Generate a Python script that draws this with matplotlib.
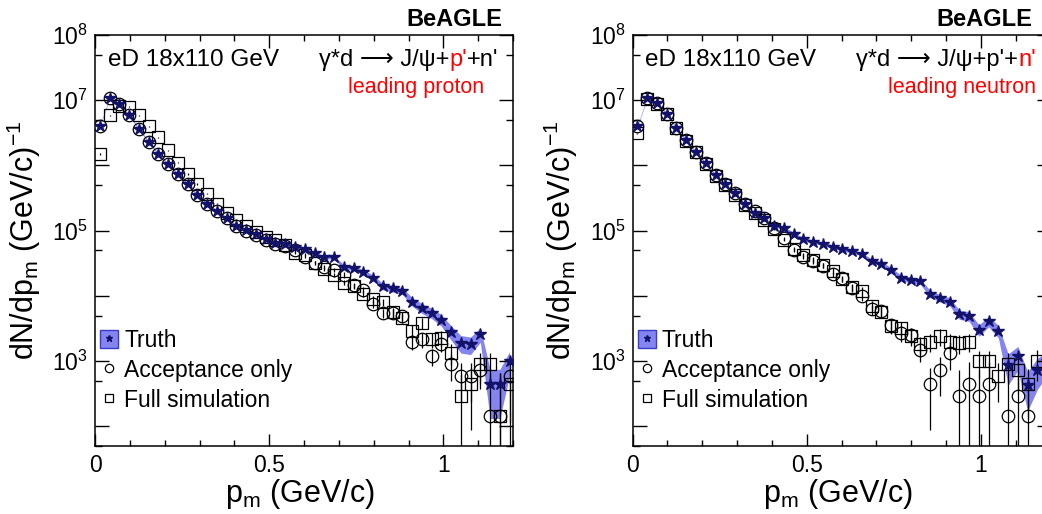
import numpy as np
import matplotlib
matplotlib.use("Agg")
import matplotlib.pyplot as plt
from matplotlib.patches import Patch
from matplotlib.lines import Line2D
from matplotlib.legend_handler import HandlerTuple
from matplotlib.ticker import FixedLocator, FixedFormatter, MultipleLocator

plt.rcParams['font.family'] = ['Liberation Sans', 'DejaVu Sans']
plt.rcParams['mathtext.fontset'] = 'custom'
plt.rcParams['mathtext.rm'] = 'Liberation Sans'
plt.rcParams['mathtext.it'] = 'Liberation Sans:italic'
plt.rcParams['mathtext.bf'] = 'Liberation Sans:bold'

# -----------------------------
# Data
# -----------------------------
# histogram 0..1.4 GeV/c in 50 bins, only the first 43 are visible
edges = np.linspace(0, 1.4, 51)
pm = 0.5 * (edges[:-1] + edges[1:])[:43]

nan = np.nan

# leading proton
p_truth = [4.0e6, 1.1e7, 8.7e6, 5.9e6, 3.6e6, 2.3e6, 1.5e6, 1.05e6, 7.4e5, 5.2e5,
           3.5e5, 2.6e5, 2.0e5, 1.55e5, 1.2e5, 1.03e5, 8.9e4, 7.5e4, 6.4e4, 6.2e4,
           5.7e4, 5.3e4, 4.5e4, 3.9e4, 3.9e4, 2.8e4, 2.7e4, 2.3e4, 1.9e4, 1.4e4,
           1.3e4, 1.2e4, 8.2e3, 6.5e3, 5.5e3, 4.3e3, 2.8e3, 1.9e3, 1.8e3, 2.6e3,
           4.4e2, 4.4e2, 1.0e3]
p_truth_err = [0.03] * 15 + [0.05] * 10 + \
              [0.08, 0.08, 0.09, 0.1, 0.11, 0.12, 0.12] + \
              [0.15, 0.17, 0.18, 0.2, 0.25, 0.3, 0.3, 0.25, 0.7, 0.7, 0.4]
p_acc = [4.0e6, 1.1e7, 8.7e6, 5.9e6, 3.6e6, 2.3e6, 1.5e6, 1.05e6, 7.4e5, 5.2e5,
         3.5e5, 2.6e5, 2.0e5, 1.55e5, 1.2e5, 1.0e5, 8.6e4, 7.2e4, 6.2e4, 5.9e4,
         5.0e4, 4.0e4, 3.2e4, 2.8e4, 2.5e4, 2.1e4, 1.45e4, 1.25e4, 7.6e3, 5.5e3,
         5.5e3, 4.9e3, 2.0e3, 2.15e3, 1.2e3, 1.85e3, 8.9e2, 5.9e2, 5.9e2, 7.4e2,
         1.45e2, 1.45e2, 5.9e2]
p_acc_err = [0.02] * 18 + [0.04, 0.05, 0.05, 0.06, 0.07, 0.07, 0.08, 0.09] + \
            [0.1, 0.11, 0.14, 0.16, 0.16, 0.17] + \
            [0.25, 0.25, 0.3, 0.25, 0.45, 0.6, 0.6, 0.5, 3.5, 3.5, 0.8]
p_full = [1.5e6, 5.9e6, 8.1e6, 7.9e6, 5.9e6, 4.0e6, 2.7e6, 1.7e6, 1.1e6, 7.4e5,
          5.2e5, 3.7e5, 2.6e5, 1.9e5, 1.46e5, 1.16e5, 9.7e4, 8.1e4, 7.1e4, 6.1e4,
          4.6e4, 4.3e4, 3.25e4, 2.6e4, 2.1e4, 1.6e4, 1.4e4, 1.08e4, 9.0e3, 8.0e3,
          5.6e3, 4.6e3, 2.9e3, 3.85e3, 2.15e3, 2.3e3, 1.35e3, 2.9e2, 4.4e2, 8.9e2,
          8.9e2, 1.45e2, 4.4e2]
p_full_err = [0.02] * 18 + [0.04, 0.04, 0.05, 0.05, 0.06, 0.07, 0.08, 0.09] + \
             [0.1, 0.11, 0.12, 0.13, 0.15, 0.17] + \
             [0.22, 0.2, 0.25, 0.25, 0.35, 1.2, 0.8, 0.5, 0.5, 3.5, 1.0]

# leading neutron
n_truth = [4.0e6, 1.1e7, 9.1e6, 6.25e6, 3.7e6, 2.45e6, 1.6e6, 1.08e6, 7.1e5, 5.2e5,
           3.75e5, 2.6e5, 1.9e5, 1.55e5, 1.2e5, 1.09e5, 8.9e4, 7.4e4, 6.8e4, 6.3e4,
           5.7e4, 5.2e4, 4.8e4, 4.4e4, 3.45e4, 3.1e4, 2.5e4, 1.9e4, 1.77e4, 1.67e4,
           1.08e4, 9.3e3, 8.2e3, 5.2e3, 4.9e3, 3.0e3, 4.1e3, 2.9e3, 8.6e2, 1.2e3,
           4.3e2, 7.4e2, 1.0e3]
n_truth_err = [0.03] * 15 + [0.06] * 10 + \
              [0.08, 0.09, 0.1, 0.1, 0.1, 0.12, 0.13] + \
              [0.14, 0.16, 0.17, 0.2, 0.18, 0.22, 0.5, 0.4, 0.6, 0.5, 0.4]
n_acc = [4.0e6, 1.1e7, 9.1e6, 6.25e6, 3.7e6, 2.45e6, 1.6e6, 1.08e6, 7.1e5, 5.2e5,
         3.75e5, 2.6e5, 2.0e5, 1.55e5, 1.09e5, 7.7e4, 5.1e4, 4.0e4, 3.4e4, 2.9e4,
         2.15e4, 1.85e4, 1.32e4, 9.8e3, 6.2e3, 5.8e3, 3.6e3, 2.7e3, 2.55e3, 1.5e3,
         4.4e2, 7.3e2, 1.34e3, 2.9e2, 4.4e2, 2.9e2, 4.4e2, nan, 1.45e2, 2.9e2,
         1.45e2, nan, nan]
n_acc_err = [0.02] * 14 + [0.04, 0.05, 0.06, 0.07, 0.08, 0.09, 0.1, 0.11] + \
            [0.12, 0.14, 0.18, 0.19, 0.24, 0.27, 0.28, 0.35] + \
            [0.8, 0.6, 0.45, 1.5, 1.2, 1.5, 1.2, nan, 2.5, 1.5, 2.5, nan, nan]
n_full = [3.1e6, 1.05e7, 8.9e6, 6.1e6, 3.7e6, 2.4e6, 1.6e6, 1.05e6, 7.0e5, 5.0e5,
          3.5e5, 2.5e5, 1.85e5, 1.45e5, 1.05e5, 7.2e4, 5.3e4, 4.2e4, 3.6e4, 2.95e4,
          2.45e4, 1.8e4, 1.37e4, 1.21e4, 7.1e3, 5.6e3, 3.4e3, 3.2e3, 2.4e3, 1.8e3,
          2.0e3, 2.4e3, 2.0e3, 1.9e3, 2.0e3, 1.0e3, 1.0e3, 5.9e2, 8.9e2, 7.4e2,
          4.4e2, 1.0e3, nan]
n_full_err = [0.02] * 14 + [0.04, 0.05, 0.06, 0.07, 0.08, 0.09, 0.1, 0.1] + \
             [0.12, 0.13, 0.17, 0.19, 0.24, 0.25, 0.28, 0.32] + \
             [0.3, 0.28, 0.3, 0.32, 0.3, 0.45, 0.45, 0.6, 0.5, 0.55, 0.7, 0.5, nan]

band_color = '#8585f2'
star_color = '#12126a'


def draw_panel(ax, truth, truth_err, acc, acc_err, full, full_err, beagle_x):
    truth = np.array(truth)
    te = np.array(truth_err) * truth
    ax.fill_between(pm, truth - te, truth + te, color=band_color, lw=0, zorder=1)
    full = np.array(full)
    ax.errorbar(pm, full, yerr=np.array(full_err) * full, fmt='s', ms=8, mfc='none',
                mec='k', mew=0.9, ecolor='k', elinewidth=0.9, capsize=0, zorder=2)
    acc = np.array(acc)
    ax.errorbar(pm, acc, yerr=np.array(acc_err) * acc, fmt='o', ms=9, mfc='none',
                mec='k', mew=0.9, ecolor='k', elinewidth=0.9, capsize=0, zorder=3)
    ax.plot(pm, truth, ls='none', marker='*', ms=9, color=star_color, zorder=4)

    ax.set_xlim(0, 1.2)
    ax.set_yscale('log')
    ax.set_ylim(50, 1e8)
    ax.xaxis.set_major_locator(FixedLocator([0, 0.5, 1.0]))
    ax.xaxis.set_major_formatter(FixedFormatter(['0', '0.5', '1']))
    ax.xaxis.set_minor_locator(MultipleLocator(0.1))
    dec = [1e2, 1e3, 1e4, 1e5, 1e6, 1e7, 1e8]
    ax.yaxis.set_major_locator(FixedLocator(dec))
    ax.yaxis.set_major_formatter(FixedFormatter(
        ['', r'$10^{3}$', '', r'$10^{5}$', '', r'$10^{7}$', r'$10^{8}$']))
    ax.yaxis.set_minor_locator(FixedLocator([5e1, 5e2, 5e3, 5e4, 5e5, 5e6, 5e7]))
    ax.yaxis.set_minor_formatter(FixedFormatter([''] * 7))
    ax.tick_params(which='both', direction='in', top=True, right=True, width=1.0,
                   labelsize=16.5)
    ax.tick_params(axis='y', which='major', length=10, pad=5)
    ax.tick_params(axis='y', which='minor', length=5)
    ax.tick_params(axis='x', which='major', length=9, pad=6)
    ax.tick_params(axis='x', which='minor', length=4)
    for s in ax.spines.values():
        s.set_linewidth(1.1)

    ax.set_xlabel(r'p$_{\rm m}$ (GeV/c)', fontsize=22)
    ax.xaxis.set_label_coords(0.49, -0.075)
    ax.set_ylabel(r'dN/dp$_{\rm m}$ (GeV/c)$^{-1}$', fontsize=22)
    ax.yaxis.set_label_coords(-0.125, 0.5)

    ax.text(beagle_x, 1.01, 'BeAGLE', transform=ax.transAxes, ha='right', va='bottom',
            fontsize=17, fontweight='bold')
    ax.text(0.03, 0.94, 'eD 18x110 GeV', transform=ax.transAxes, ha='left',
            va='center', fontsize=17.5)

    handles = [(Patch(fc=band_color, ec='#3a3ad0', lw=1.0),
                Line2D([], [], ls='none', marker='*', ms=5, color=star_color)),
               Line2D([], [], ls='none', marker='o', ms=6, mfc='none', mec='k', mew=0.9),
               Line2D([], [], ls='none', marker='s', ms=5.5, mfc='none', mec='k', mew=0.9)]
    ax.legend(handles, ['Truth', 'Acceptance only', 'Full simulation'],
              handler_map={tuple: HandlerTuple(ndivide=1, pad=0)},
              loc='upper left', bbox_to_anchor=(0.012, 0.285), frameon=False,
              fontsize=16.5, handlelength=0.8, handleheight=0.8, handletextpad=0.25,
              labelspacing=0.3, borderpad=0, borderaxespad=0)


def reaction(ax, pieces):
    # pieces drawn right to left so the string ends at the right edge
    prev = None
    for txt, col in reversed(pieces):
        if prev is None:
            prev = ax.text(0.965, 0.94, txt, transform=ax.transAxes, ha='right',
                           va='center', fontsize=17, color=col)
        else:
            prev = ax.annotate(txt, xy=(0, 0), xycoords=prev, ha='right',
                               va='bottom', fontsize=17, color=col)


fig = plt.figure(figsize=(10.42, 5.14), dpi=100)
ax1 = fig.add_axes([0.0912, 0.1323, 0.4012, 0.7996])
ax2 = fig.add_axes([0.6071, 0.1323, 0.4012, 0.7996])

draw_panel(ax1, p_truth, p_truth_err, p_acc, p_acc_err, p_full, p_full_err, 0.975)
draw_panel(ax2, n_truth, n_truth_err, n_acc, n_acc_err, n_full, n_full_err, 0.955)

arrow = "\u03b3*d \u27f6 J/\u03c8+"
reaction(ax1, [(arrow, 'black'), ("p'", 'red'), ("+n'", 'black')])
reaction(ax2, [(arrow + "p'+", 'black'), ("n'", 'red')])
ax1.text(0.93, 0.873, 'leading proton', transform=ax1.transAxes, ha='right',
         va='center', fontsize=15.5, color='red')
ax2.text(0.965, 0.873, 'leading neutron', transform=ax2.transAxes, ha='right',
         va='center', fontsize=15.5, color='red')

fig.savefig('out.png', dpi=100)
